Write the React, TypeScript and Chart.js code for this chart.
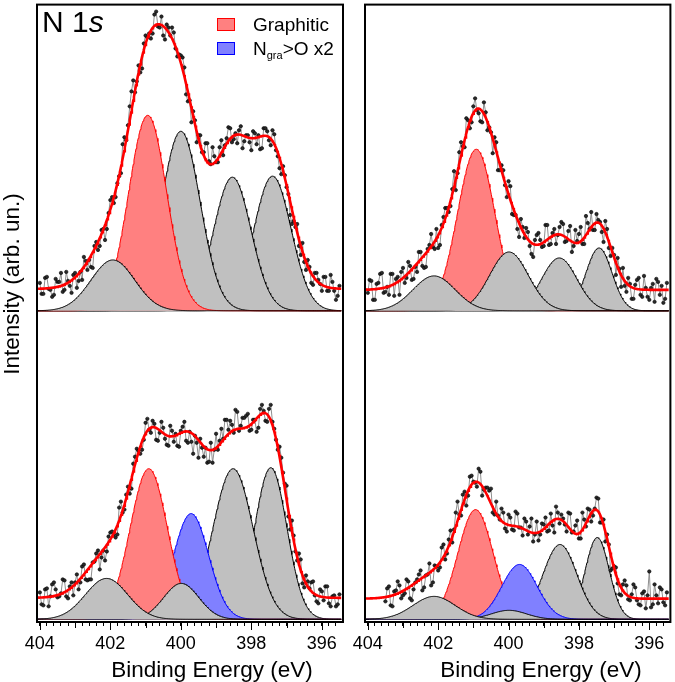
import React, { useEffect, useRef } from 'react';
import { Chart, registerables } from 'chart.js';

Chart.register(...registerables);

const FONT = '"Liberation Sans", Arial, Helvetica, sans-serif';

// ---- axis ----
const X_MIN = 395.4;
const X_MAX = 404.08;
const TICK_LABELS = [404, 402, 400, 398, 396];
const MID_TICKS = [403, 401, 399, 397];
const MINOR_TICKS = [404, 403.8, 403.6, 403.4, 403.2, 403, 402.8, 402.6, 402.4, 402.2, 402, 401.8, 401.6, 401.4, 401.2, 401, 400.8, 400.6, 400.4, 400.2, 400, 399.8, 399.6, 399.4, 399.2, 399, 398.8, 398.6, 398.4, 398.2, 398, 397.8, 397.6, 397.4, 397.2, 397, 396.8, 396.6, 396.4, 396.2, 396, 395.8, 395.6];

// ---- raw spectra (counts, 0.05 eV steps, arb. units) ----
const RAW_STEP = 0.05;
const TL_START = 404.0;
const TL_COUNTS = [
  28, 17, 17, 33, 34, 22, 21, 14, 16, 32, 29, 29, 38, 19, 21, 39, 30, 25, 18, 36,
  38, 23, 30, 39, 31, 54, 50, 41, 51, 44, 43, 65, 69, 61, 65, 81, 82, 71, 82, 98,
  111, 114, 108, 114, 128, 135, 138, 167, 174, 171, 186, 205, 220, 231, 219, 230, 246, 239, 243, 268,
  276, 274, 278, 273, 278, 297, 300, 285, 284, 295, 276, 272, 287, 284, 276, 284, 279, 263, 255, 257,
  256, 254, 244, 217, 210, 211, 189, 200, 191, 169, 176, 176, 159, 159, 168, 168, 150, 147, 164, 155,
  149, 149, 164, 171, 156, 166, 173, 184, 183, 169, 172, 178, 168, 181, 185, 163, 170, 176, 176, 169,
  161, 180, 178, 167, 176, 162, 163, 183, 183, 180, 171, 166, 181, 177, 161, 155, 143, 137, 145, 136,
  124, 117, 96, 87, 90, 84, 87, 65, 56, 68, 49, 41, 51, 44, 28, 26, 38, 38, 31, 27,
  20, 34, 34, 20, 20, 36, 29, 20, 11, 15, 25];
const TR_START = 404.0;
const TR_COUNTS = [
  18, 31, 30, 11, 11, 27, 28, 37, 38, 18, 19, 24, 16, 37, 37, 15, 32, 34, 16, 39,
  43, 28, 33, 49, 45, 31, 32, 44, 39, 59, 59, 45, 43, 44, 62, 66, 77, 64, 62, 82,
  63, 66, 86, 94, 103, 103, 99, 105, 122, 140, 121, 138, 159, 169, 165, 164, 193, 191, 183, 189,
  205, 213, 201, 198, 190, 189, 209, 199, 181, 184, 179, 158, 174, 169, 141, 141, 146, 141, 126, 114,
  130, 125, 97, 96, 96, 82, 74, 92, 84, 73, 83, 79, 65, 57, 54, 71, 76, 78, 71, 64,
  65, 86, 86, 66, 67, 78, 82, 67, 76, 84, 89, 87, 69, 70, 80, 85, 59, 65, 81, 70,
  77, 84, 67, 67, 95, 88, 82, 99, 81, 81, 97, 91, 89, 79, 69, 90, 82, 63, 55, 63,
  56, 36, 53, 42, 24, 43, 25, 19, 33, 27, 12, 12, 26, 31, 33, 16, 14, 35, 23, 14,
  11, 23, 27, 9, 32, 29, 16, 25, 8, 12, 28];
const BL_START = 404.0;
const BL_COUNTS = [
  27, 15, 14, 30, 31, 13, 23, 35, 37, 30, 22, 23, 26, 40, 39, 23, 21, 33, 37, 24,
  37, 45, 30, 37, 53, 55, 40, 39, 40, 40, 57, 58, 66, 69, 50, 62, 69, 59, 68, 83,
  87, 88, 85, 82, 85, 112, 118, 107, 110, 125, 133, 126, 131, 156, 163, 171, 169, 166, 170, 180,
  197, 201, 190, 187, 199, 196, 180, 179, 187, 198, 192, 181, 175, 174, 194, 189, 178, 186, 174, 173,
  189, 193, 198, 179, 177, 188, 178, 166, 184, 177, 162, 181, 172, 163, 172, 157, 158, 177, 157, 170,
  186, 170, 179, 191, 181, 200, 200, 190, 199, 195, 187, 210, 208, 189, 194, 202, 202, 204, 206, 189,
  190, 200, 200, 188, 192, 211, 215, 209, 199, 198, 211, 215, 198, 191, 180, 170, 173, 162, 147, 136,
  134, 103, 90, 99, 84, 68, 59, 66, 60, 36, 32, 44, 38, 31, 37, 38, 24, 18, 16, 30,
  28, 19, 33, 33, 16, 13, 23, 24, 13, 15, 25];
const BR_START = 403.5;
const BR_COUNTS = [
  18, 31, 33, 14, 13, 28, 29, 38, 34, 21, 24, 26, 40, 38, 21, 19, 30, 37, 40, 45,
  49, 29, 32, 44, 45, 56, 34, 37, 54, 53, 49, 52, 72, 75, 60, 66, 80, 89, 77, 90,
  107, 118, 105, 104, 125, 128, 114, 124, 143, 144, 138, 137, 133, 151, 148, 124, 130, 132, 132, 129,
  131, 107, 105, 118, 104, 100, 111, 107, 91, 88, 105, 102, 90, 89, 108, 106, 92, 92, 84, 101,
  98, 85, 93, 101, 78, 85, 98, 79, 85, 96, 95, 102, 88, 89, 106, 94, 87, 113, 107, 96,
  105, 101, 95, 88, 107, 106, 87, 88, 94, 99, 81, 81, 107, 100, 93, 111, 110, 98, 104, 111,
  122, 121, 97, 97, 100, 78, 85, 75, 49, 51, 53, 52, 36, 25, 24, 35, 39, 34, 20, 19,
  25, 35, 32, 19, 15, 14, 26, 28, 11, 24, 48, 12, 15, 35, 24, 16, 32, 30, 17, 14,
  27];

// ---- fitted components (drawing order), centre eV / height / sigma eV ----
const TL_CENTERS = [397.40, 398.54, 400.00, 400.94, 401.93];
const TL_HEIGHTS = [135, 134, 180, 196, 51];
const TL_SIGMAS = [0.53, 0.53, 0.55, 0.54, 0.62];
const TL_KINDS = ['other', 'other', 'other', 'graphitic', 'other'];
const TL_BACKGROUND = 22;

const TR_CENTERS = [397.43, 398.56, 400.92, 399.99, 402.12];
const TR_HEIGHTS = [63, 53, 162, 59, 35];
const TR_SIGMAS = [0.37, 0.50, 0.53, 0.55, 0.60];
const TR_KINDS = ['other', 'other', 'graphitic', 'other', 'other'];
const TR_BACKGROUND = 21;

const BL_CENTERS = [397.45, 398.52, 399.71, 400.91, 399.99, 402.11];
const BL_HEIGHTS = [152, 151, 106, 151, 36, 41];
const BL_SIGMAS = [0.46, 0.57, 0.50, 0.53, 0.50, 0.60];
const BL_KINDS = ['other', 'other', 'oxide', 'graphitic', 'other', 'other'];
const BL_BACKGROUND = 21.5;

const BR_CENTERS = [397.48, 398.54, 400.94, 399.69, 399.99, 402.12];
const BR_HEIGHTS = [82, 75, 110, 55, 9, 23];
const BR_SIGMAS = [0.34, 0.48, 0.50, 0.50, 0.50, 0.60];
const BR_KINDS = ['other', 'other', 'graphitic', 'oxide', 'other', 'other'];
const BR_BACKGROUND = 20.7;

const KIND_STYLE: Record<string, { fill: string; line: string }> = {
  other: { fill: '#c0c0c0', line: '#000000' },
  graphitic: { fill: '#ff8080', line: '#ff0000' },
  oxide: { fill: '#8080ff', line: '#0000ff' },
};

type Panel = {
  start: number; counts: number[]; centers: number[]; heights: number[];
  sigmas: number[]; kinds: string[]; background: number;
};

const TL: Panel = { start: TL_START, counts: TL_COUNTS, centers: TL_CENTERS, heights: TL_HEIGHTS, sigmas: TL_SIGMAS, kinds: TL_KINDS, background: TL_BACKGROUND };
const TR: Panel = { start: TR_START, counts: TR_COUNTS, centers: TR_CENTERS, heights: TR_HEIGHTS, sigmas: TR_SIGMAS, kinds: TR_KINDS, background: TR_BACKGROUND };
const BL: Panel = { start: BL_START, counts: BL_COUNTS, centers: BL_CENTERS, heights: BL_HEIGHTS, sigmas: BL_SIGMAS, kinds: BL_KINDS, background: BL_BACKGROUND };
const BR: Panel = { start: BR_START, counts: BR_COUNTS, centers: BR_CENTERS, heights: BR_HEIGHTS, sigmas: BR_SIGMAS, kinds: BR_KINDS, background: BR_BACKGROUND };

// energies where the fitted component curves are evaluated
const FIT_GRID: number[] = [];
for (let k = 0; k <= 430; k++) FIT_GRID.push(Math.round((404.05 - k * 0.02) * 100) / 100);

function component(e: number, c: number, h: number, s: number) {
  return h * Math.exp(-((e - c) * (e - c)) / (2 * s * s));
}

function panelSets(p: Panel, axis: string) {
  const sets: any[] = [];
  sets.push({
    label: 'fit', yAxisID: axis, order: 0,
    data: FIT_GRID.map((e) => ({
      x: e,
      y: p.background + p.centers.reduce((acc, c, i) => acc + component(e, c, p.heights[i], p.sigmas[i]), 0),
    })),
    borderColor: '#ff0000', borderWidth: 2.6, pointRadius: 0, fill: false,
  });
  sets.push({
    label: 'data', yAxisID: axis, order: 1,
    data: p.counts.map((y, i) => ({ x: Math.round((p.start - i * RAW_STEP) * 100) / 100, y })),
    borderColor: '#8f8f8f', borderWidth: 1, pointRadius: 1.7,
    pointBackgroundColor: '#2a2a2a', pointBorderColor: '#000000', pointBorderWidth: 0.6, fill: false,
  });
  p.centers.forEach((c, i) => {
    const st = KIND_STYLE[p.kinds[i]];
    sets.push({
      label: p.kinds[i], yAxisID: axis, order: 100 - i,
      data: FIT_GRID.map((e) => ({ x: e, y: component(e, c, p.heights[i], p.sigmas[i]) })),
      borderColor: st.line, backgroundColor: st.fill, borderWidth: 1, pointRadius: 0, fill: 'origin',
    });
  });
  return sets;
}

const framePlugin = {
  id: 'frame',
  afterDraw(chart: any) {
    const { ctx, chartArea: a, scales } = chart;
    const x = scales.x;
    ctx.save();
    ctx.strokeStyle = '#000';
    ctx.lineWidth = 1;
    const tick = (v: number, len: number) => {
      const px = Math.round(x.getPixelForValue(v)) + 0.5;
      ctx.beginPath();
      ctx.moveTo(px, a.bottom);
      ctx.lineTo(px, a.bottom + len);
      ctx.stroke();
    };
    TICK_LABELS.forEach((v) => tick(v, 8));
    MID_TICKS.forEach((v) => tick(v, 6));
    ctx.lineWidth = 2;
    ctx.strokeRect(a.left, a.top, a.right - a.left, a.bottom - a.top);
    ctx.restore();
  },
};

function makeChart(canvas: HTMLCanvasElement, top: Panel, bottom: Panel, padLeft: number, padRight: number) {
  return new Chart(canvas, {
    type: 'line',
    data: { datasets: [...panelSets(top, 'yTop'), ...panelSets(bottom, 'yBot')] },
    options: {
      animation: false,
      responsive: false,
      events: [],
      layout: { padding: { left: padLeft, right: padRight, top: 3, bottom: 0 } },
      elements: { line: { tension: 0 } },
      plugins: { legend: { display: false }, tooltip: { enabled: false } },
      scales: {
        x: {
          type: 'linear', reverse: true, min: X_MIN, max: X_MAX, position: 'bottom',
          afterBuildTicks: (s: any) => { s.ticks = MINOR_TICKS.map((v) => ({ value: v })); },
          afterFit: (s: any) => { s.height = 60; },
          grid: { drawOnChartArea: false, drawTicks: true, tickLength: 4, tickColor: '#000', tickWidth: 1 },
          border: { display: false },
          ticks: {
            autoSkip: false, maxRotation: 0, minRotation: 0, padding: 7, color: '#000',
            font: { family: FONT, size: 18 },
            callback: (v: any) => (TICK_LABELS.includes(Math.round(Number(v) * 10) / 10) ? String(v) : ''),
          },
        },
        yBot: { type: 'linear', display: false, position: 'left', stack: 'col', stackWeight: 1, min: -2.7, max: 306.8 },
        yTop: { type: 'linear', display: false, position: 'left', stack: 'col', stackWeight: 1, min: -2.5, max: 307 },
      },
    } as any,
    plugins: [framePlugin],
  });
}

export default function App() {
  const leftRef = useRef<HTMLCanvasElement>(null);
  const rightRef = useRef<HTMLCanvasElement>(null);

  useEffect(() => {
    const a = makeChart(leftRef.current!, TL, BL, 37, 11);
    const b = makeChart(rightRef.current!, TR, BR, 20, 3);
    return () => { a.destroy(); b.destroy(); };
  }, []);

  const abs: React.CSSProperties = { position: 'absolute', whiteSpace: 'nowrap' };

  return (
    <div style={{ position: 'fixed', left: 0, top: 0, width: 675, height: 682, background: '#fff', fontFamily: FONT, color: '#000', overflow: 'hidden' }}>
      <canvas ref={leftRef} width={354} height={682} style={{ position: 'absolute', left: 0, top: 0 }} />
      <canvas ref={rightRef} width={330} height={682} style={{ position: 'absolute', left: 345, top: 0 }} />

      <div style={{ ...abs, left: 42, top: 7, fontSize: 30, lineHeight: '30px' }}>N 1<i>s</i></div>

      <div style={{ ...abs, left: 217, top: 18, width: 18, height: 13, boxSizing: 'border-box', background: '#ff8080', border: '1.5px solid #ff0000' }} />
      <div style={{ ...abs, left: 253, top: 15, fontSize: 19, lineHeight: '19px' }}>Graphitic</div>
      <div style={{ ...abs, left: 217, top: 42, width: 18, height: 13, boxSizing: 'border-box', background: '#8080ff', border: '1.5px solid #0000ff' }} />
      <div style={{ ...abs, left: 253, top: 38.5, fontSize: 19, lineHeight: '19px' }}>
        N<sub style={{ fontSize: 11, verticalAlign: '-4px', lineHeight: 0 }}>gra</sub>&gt;O x2
      </div>

      <div style={{ ...abs, left: -138, top: 273, width: 300, fontSize: 22.5, lineHeight: '22px', textAlign: 'center', transform: 'rotate(-90deg)' }}>
        Intensity (arb. un.)
      </div>

      <div style={{ ...abs, left: 62, top: 659, width: 300, textAlign: 'center', fontSize: 22.5, lineHeight: '22px' }}>Binding Energy (eV)</div>
      <div style={{ ...abs, left: 391, top: 659, width: 300, textAlign: 'center', fontSize: 22.5, lineHeight: '22px' }}>Binding Energy (eV)</div>
    </div>
  );
}
